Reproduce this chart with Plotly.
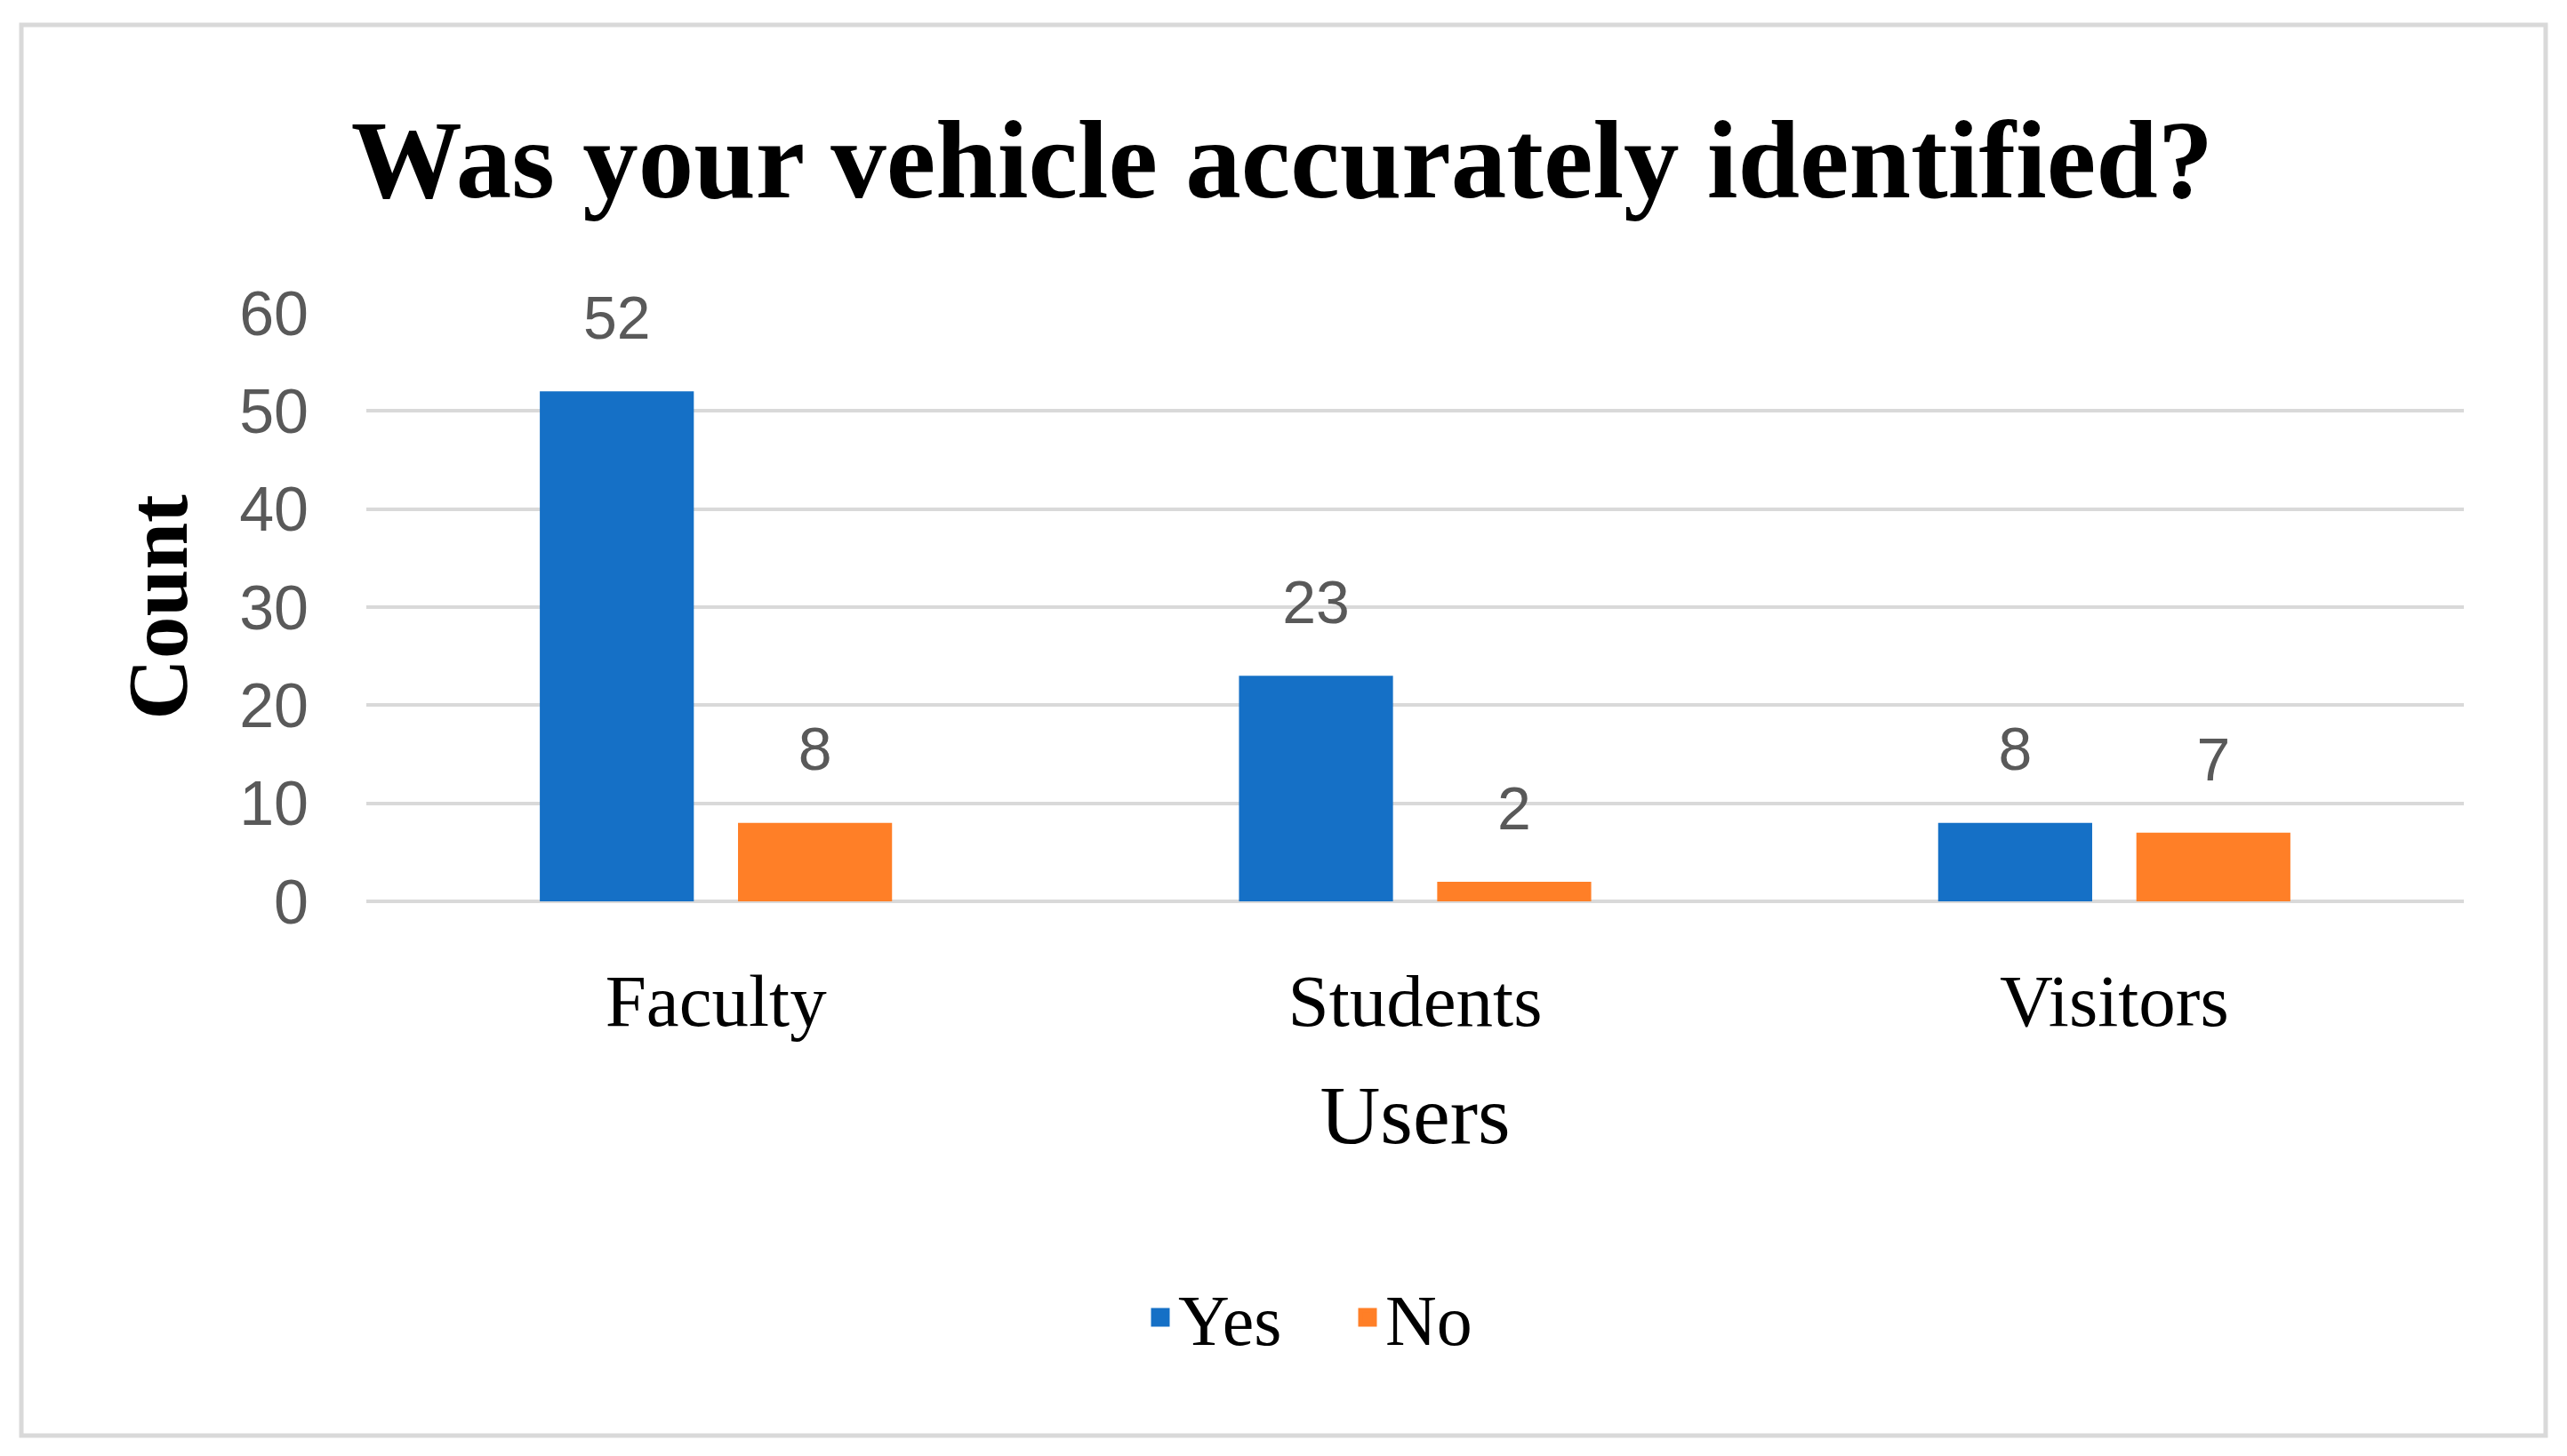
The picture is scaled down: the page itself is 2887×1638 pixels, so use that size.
import plotly.graph_objects as go

categories = ["Faculty", "Students", "Visitors"]
yes_values = [52, 23, 8]
no_values = [8, 2, 7]
series_names = ["Yes", "No"]
y_ticks = [0, 10, 20, 30, 40, 50, 60]

BLUE = "#1570C6"
ORANGE = "#FF7F27"
GRID = "#D9D9D9"
TICK_GRAY = "#595959"
SERIF = "Liberation Serif, Times New Roman, serif"
SANS = "Liberation Sans, Arial, sans-serif"

# page body has an 8px margin; work in figure coordinates
OFF = 8
W, H = 2887 - 2 * OFF, 1638 - 2 * OFF
L, T = 412 - OFF, 352 - OFF
R = W - (2771 - OFF)
B = H - (1014 - OFF)

fig = go.Figure()
colors = [BLUE, ORANGE]
for name, vals, col in zip(series_names, [yes_values, no_values], colors):
    fig.add_trace(go.Bar(
        x=categories, y=vals, name=name, offsetgroup=name,
        marker=dict(color=col, line=dict(width=0)),
        showlegend=False, hoverinfo="skip",
    ))
    # data labels grouped like the bars
    fig.add_trace(go.Scatter(
        x=categories, y=vals, offsetgroup=name, mode="markers+text",
        text=[str(v) for v in vals], textposition="top center",
        textfont=dict(family=SANS, size=68, color=TICK_GRAY),
        marker=dict(size=66, color="rgba(0,0,0,0)"),
        showlegend=False, hoverinfo="skip", cliponaxis=False,
    ))
    # legend proxy
    fig.add_trace(go.Scatter(
        x=[None], y=[None], name=name, mode="markers",
        marker=dict(symbol="square", size=16, color=col, line=dict(width=5, color=col)),
        showlegend=True,
    ))

pw = W - L - R
ph = H - T - B
plot_bottom = H - B
fig.add_shape(type="rect", xref="paper", yref="paper",
              x0=(24 - OFF - L) / pw, x1=(2863 - OFF - L) / pw,
              y0=(plot_bottom - (1615 - OFF)) / ph, y1=(plot_bottom - (28 - OFF)) / ph,
              line=dict(color=GRID, width=5), fillcolor="rgba(0,0,0,0)", layer="below")

fig.update_layout(
    width=W, height=H,
    margin=dict(l=L, r=R, t=T, b=B, autoexpand=False),
    paper_bgcolor="white", plot_bgcolor="white",
    barmode="group", bargap=0.433, bargroupgap=0.223,
    scattermode="group", scattergap=0.433,
    title=dict(text="<b>Was your vehicle accurately identified?</b>",
               font=dict(family=SERIF, size=125, color="black"),
               x=(1442 - OFF) / W, xref="container", xanchor="center",
               y=1 - (178 - OFF) / H, yref="container", yanchor="middle"),
    xaxis=dict(
        type="category", showgrid=False, showline=False, zeroline=False,
        tickfont=dict(family=SERIF, size=83, color="black"),
        ticklabelstandoff=56,
        title=dict(text="Users", font=dict(family=SERIF, size=94, color="black"), standoff=49),
    ),
    yaxis=dict(
        range=[0, 60], tickvals=y_ticks, showgrid=True, gridcolor=GRID, gridwidth=4,
        zeroline=True, zerolinecolor=GRID, zerolinewidth=4, showline=False,
        tickfont=dict(family=SANS, size=70, color=TICK_GRAY),
        ticklabelstandoff=64,
        title=dict(text="<b>Count</b>", font=dict(family=SERIF, size=95, color="black"), standoff=26),
    ),
    legend=dict(
        orientation="h", xref="container", yref="container",
        x=(1329 - OFF - 44) / W, xanchor="left", y=1 - (1482 - OFF) / H, yanchor="middle",
        font=dict(family=SERIF, size=80, color="black"),
        itemwidth=30, entrywidth=188, bgcolor="rgba(0,0,0,0)",
    ),
)

fig.write_html("out.html")
